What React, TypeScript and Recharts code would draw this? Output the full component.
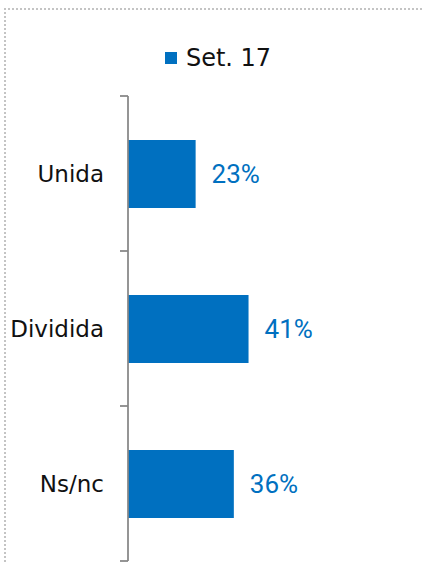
import { Bar, BarChart, LabelList, Legend, XAxis, YAxis } from "recharts";

const categories = ["Unida", "Dividida", "Ns/nc"];
const setValues = [23, 41, 36];
const seriesName = "Set. 17";

const BLUE = "#0070C0";
const AXIS = "#868686";
const W = 422;
const H = 562;
const MARGIN = { top: 96, right: 0, bottom: 1, left: 0 };
const BAND = (H - MARGIN.top - MARGIN.bottom) / categories.length;
const AXIS_X = 128;

const data = categories.map((name, i) => ({ name, value: setValues[i] }));

// excel-style ticks: marks sit on the band edges, label in the middle
const CategoryTick = (props: any) => {
  const { x, y, payload, index, visibleTicksCount } = props;
  const top = y - BAND / 2;
  const bottom = y + BAND / 2;
  return (
    <g>
      <line x1={AXIS_X - 8} x2={AXIS_X} y1={top} y2={top} stroke={AXIS} strokeWidth={1.75} />
      {index === visibleTicksCount - 1 && (
        <line x1={AXIS_X - 8} x2={AXIS_X} y1={bottom} y2={bottom} stroke={AXIS} strokeWidth={1.75} />
      )}
      <text
        x={x}
        y={y}
        textAnchor="end"
        dominantBaseline="central"
        fill="#111"
        fontSize={23}
        fontFamily="'DejaVu Sans', sans-serif"
      >
        {payload.value}
      </text>
    </g>
  );
};

const LegendBox = () => (
  <div
    style={{
      display: "flex",
      justifyContent: "center",
      alignItems: "center",
      fontFamily: "'DejaVu Sans', sans-serif",
      fontSize: 24,
      color: "#111",
      paddingLeft: 14,
    }}
  >
    <span style={{ width: 12, height: 12, background: BLUE, marginRight: 9, display: "inline-block" }} />
    <span>{seriesName}</span>
  </div>
);

export default function App() {
  return (
    <div style={{ position: "fixed", left: 0, top: 0, width: W, height: H, background: "#fff" }}>
      <div
        style={{
          position: "absolute",
          left: 4,
          top: 8,
          width: W - 4,
          height: H - 8,
          borderTop: "2px dotted #c4c4c4",
          borderLeft: "2px dotted #c4c4c4",
          boxSizing: "border-box",
        }}
      />
      <div style={{ position: "absolute", left: 0, top: 0 }}>
        <BarChart width={W} height={H} data={data} layout="vertical" margin={MARGIN}>
          <XAxis type="number" domain={[0, 100]} hide />
          <YAxis
            type="category"
            dataKey="name"
            width={AXIS_X}
            axisLine={{ stroke: AXIS, strokeWidth: 1.75 }}
            tickLine={false}
            tickSize={8}
            tickMargin={16}
            tick={<CategoryTick />}
          />
          <Legend
            verticalAlign="middle"
            content={<LegendBox />}
            wrapperStyle={{ top: 44, left: 0, width: W, height: 30 }}
          />
          <Bar dataKey="value" name={seriesName} fill={BLUE} barSize={68} isAnimationActive={false}>
            <LabelList
              dataKey="value"
              position="right"
              offset={16}
              formatter={(v: any) => `${v}%`}
              fill={BLUE}
              fontSize={26}
              fontFamily="'Liberation Sans Narrow', 'Roboto', sans-serif"
            />
          </Bar>
        </BarChart>
      </div>
    </div>
  );
}
